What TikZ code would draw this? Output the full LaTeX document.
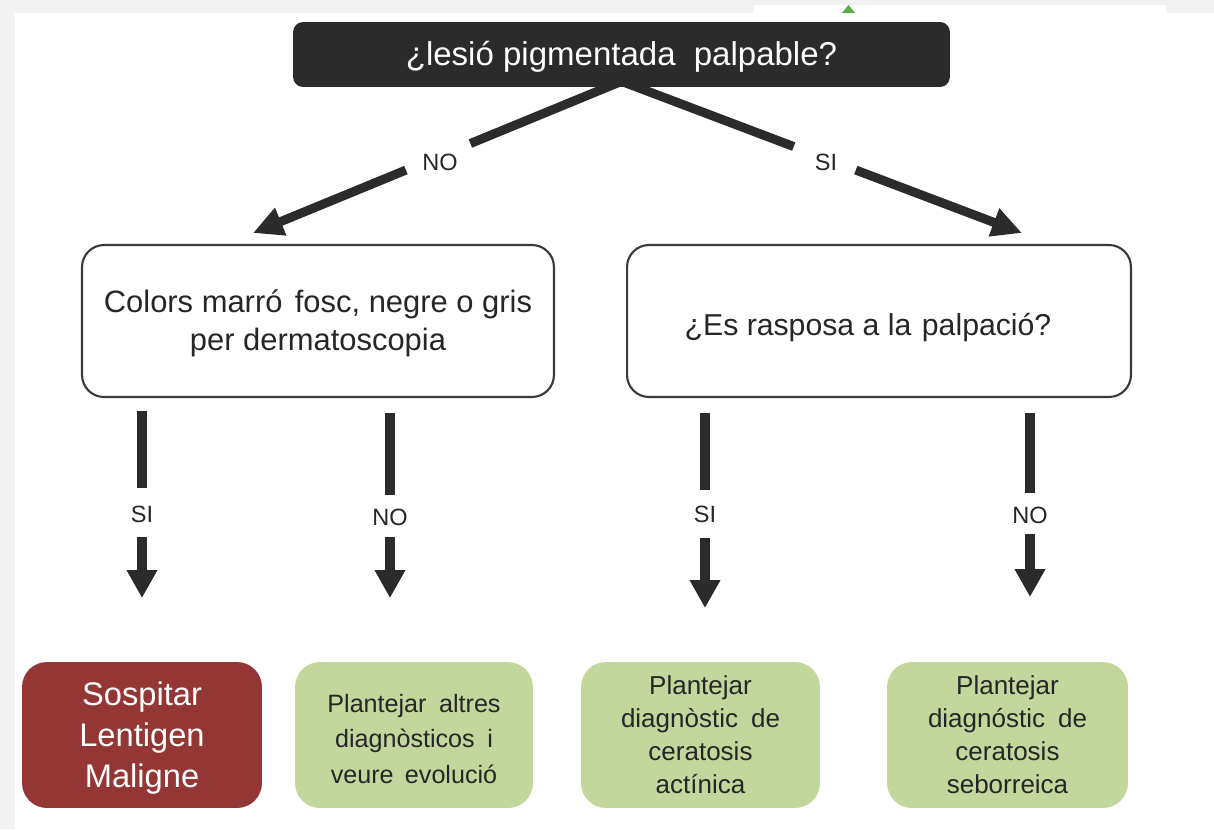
\documentclass[tikz,border=0pt]{standalone}
\usepackage{fontspec}
\setmainfont{Liberation Sans}
\usetikzlibrary{arrows.meta,calc}
\definecolor{dark}{HTML}{2B2B2B}
\definecolor{txt}{HTML}{262626}
\definecolor{bord}{HTML}{3A3A3A}
\definecolor{redbox}{HTML}{943634}
\definecolor{greenbox}{HTML}{C3D69B}
\definecolor{pagegray}{HTML}{F2F2F2}
\definecolor{tinygreen}{HTML}{5BAE45}
\tikzset{
  topbox/.style={fill=dark, rounded corners=0.2cm, minimum width=13.14cm, minimum height=1.3cm,
    text=white, inner sep=0pt, font=\fontsize{18.8}{22}\selectfont},
  qbox/.style={draw=bord, line width=1.2pt, fill=white, rounded corners=0.44cm,
    minimum height=3.04cm, align=center, text=txt, inner sep=0pt,
    font=\fontsize{17.6}{21.6}\selectfont},
  outbox/.style={rounded corners=0.5cm, minimum width=4.8cm, minimum height=2.92cm,
    align=center, inner sep=0pt},
  redout/.style={outbox, fill=redbox, text=white, font=\fontsize{18.6}{23.3}\selectfont},
  greenout/.style={outbox, fill=greenbox, text=txt},
  gfontA/.style={font=\fontsize{14.3}{20}\selectfont},
  gfontB/.style={font=\fontsize{14.8}{18.8}\selectfont},
  conn/.style={draw=dark, line width=0.2cm},
  dconn/.style={draw=dark, line width=0.18cm},
  vtip/.style={-{Triangle[width=0.58cm,length=0.56cm]}},
  dtip/.style={-{Triangle[width=0.56cm,length=0.6cm]}},
  lbl/.style={text=txt, inner sep=0pt, font=\fontsize{13.4}{16}\selectfont},
}
\begin{document}
\begin{tikzpicture}[x=0.02cm, y=-0.02cm]
\useasboundingbox (0,0) rectangle (1214,829);
% page background
\fill[pagegray] (0,0) rectangle (1214,829);
\fill[white] (15,13) rectangle (1214,829);
\fill[white] (754,5) rectangle (1166,13);
\fill[tinygreen] (842,13) -- (848.5,5) -- (855,13) -- cycle;

% nodes
\node[topbox] (top) at (621.5,54.5) {};
\node[text=white, font=\fontsize{18.8}{22}\selectfont] (topt) at (621.5,57) {¿lesió pigmentada\hspace{0.55em}palpable?};
\node[qbox, minimum width=9.44cm] (lq) at (318,321) {};
\node[text=txt, align=center, font=\fontsize{17.6}{21.6}\selectfont] (lqt) at (318,323)
  {Colors marró\hspace{0.4em}fosc, negre o gris\\per dermatoscopia};
\node[qbox, minimum width=10.08cm] (rq) at (879,321) {};
\node[text=txt, font=\fontsize{17.2}{21}\selectfont] (rqt) at (868,328) {¿Es rasposa a la\hspace{0.35em}palpació?};

\node[redout] (r1) at (142,735) {};
\node[text=white, align=center, font=\fontsize{18.6}{23.3}\selectfont] (r1t) at (142,738) {Sospitar\\Lentigen\\Maligne};
\node[greenout, minimum width=4.76cm] (g1) at (414,735) {};
\node[text=txt, align=center, gfontA] (g1t) at (414,739)
  {Plantejar\hspace{0.5em}altres\\diagnòsticos\hspace{0.5em}i\\veure\hspace{0.45em}evolució};
\node[greenout, minimum width=4.78cm, gfontB] (g2) at (700.5,735)
  {Plantejar\\diagnòstic\hspace{0.5em}de\\ceratosis\\actínica};
\node[greenout, minimum width=4.82cm, gfontB] (g3) at (1007.5,735)
  {Plantejar\\diagnóstic\hspace{0.5em}de\\ceratosis\\seborreica};

% diagonal connectors
\coordinate (apex) at ($(top.south)+(0,-6)$);
\coordinate (tipL) at (253,233);
\coordinate (tipR) at (1022,233);
\draw[dconn] (apex) -- ($(apex)!0.41!(tipL)$);
\draw[dconn, dtip] ($(apex)!0.585!(tipL)$) -- (tipL);
\node[lbl] (lblL) at (440,162) {NO};
\draw[dconn] (apex) -- ($(apex)!0.43!(tipR)$);
\draw[dconn, dtip] ($(apex)!0.585!(tipR)$) -- (tipR);
\node[lbl] (lblR) at (826,162) {SI};

% vertical connectors
\coordinate (a1) at (142,411); \coordinate (b1) at (142,488);
\coordinate (c1) at (142,537); \coordinate (d1) at (142,598);
\coordinate (a2) at (390,413); \coordinate (b2) at (390,495);
\coordinate (c2) at (390,537); \coordinate (d2) at (390,598);
\coordinate (a3) at (705,413); \coordinate (b3) at (705,490);
\coordinate (c3) at (705,538); \coordinate (d3) at (705,608);
\coordinate (a4) at (1030,413); \coordinate (b4) at (1030,493);
\coordinate (c4) at (1030,534); \coordinate (d4) at (1030,597);
\draw[conn] (a1) -- (b1); \draw[conn, vtip] (c1) -- (d1);
\draw[conn] (a2) -- (b2); \draw[conn, vtip] (c2) -- (d2);
\draw[conn] (a3) -- (b3); \draw[conn, vtip] (c3) -- (d3);
\draw[conn] (a4) -- (b4); \draw[conn, vtip] (c4) -- (d4);
\node[lbl] (l1) at (142,514) {SI};
\node[lbl] (l2) at (390,517) {NO};
\node[lbl] (l3) at (705,514) {SI};
\node[lbl] (l4) at (1030,515) {NO};
\end{tikzpicture}
\end{document}
